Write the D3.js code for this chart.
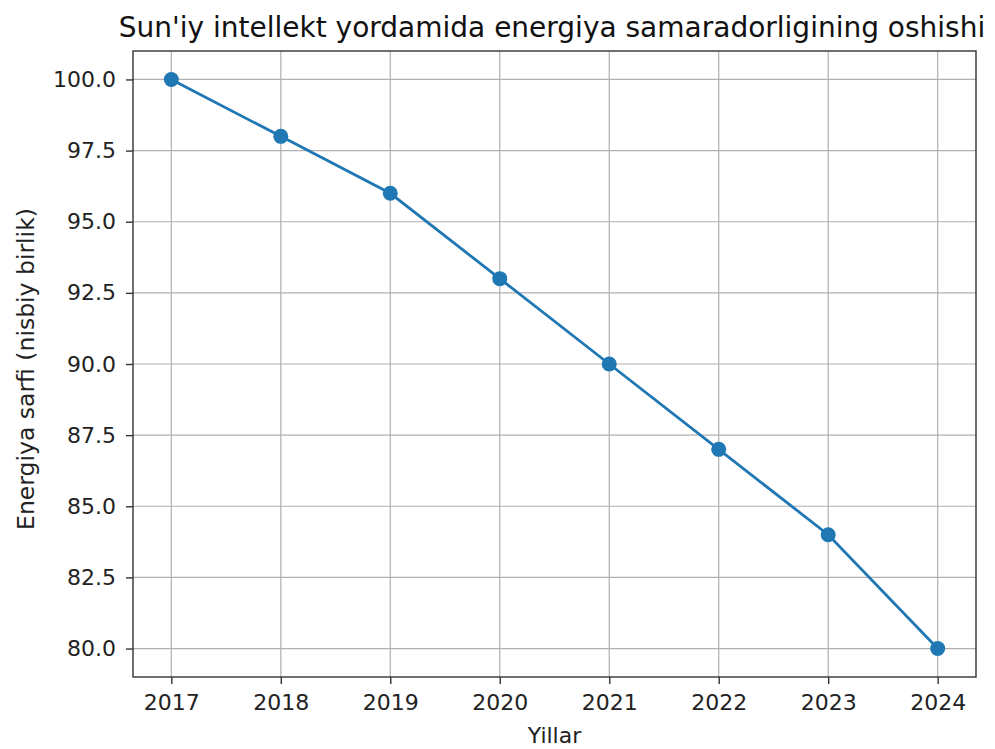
<!DOCTYPE html>
<html><head><meta charset="utf-8">
<script src="https://cdn.jsdelivr.net/npm/d3@7"></script>
<style>body{margin:0;background:#fff;}svg{display:block;font-family:"DejaVu Sans",sans-serif;}</style>
</head><body>
<svg id="c" width="995" height="749"></svg>
<script>
const years = [2017, 2018, 2019, 2020, 2021, 2022, 2023, 2024];
const energy = [100, 98, 96, 93, 90, 87, 84, 80];
const yTicks = [80.0, 82.5, 85.0, 87.5, 90.0, 92.5, 95.0, 97.5, 100.0];
const title = "Sun'iy intellekt yordamida energiya samaradorligining oshishi";
const xLabel = "Yillar";
const yLabel = "Energiya sarfi (nisbiy birlik)";

const svg = d3.select("#c");
const L = 133, R = 976, T = 51, B = 677;
const x = d3.scaleLinear().domain([2016.65, 2024.35]).range([L, R]);
const y = d3.scaleLinear().domain([79, 101]).range([B, T]);

// grid
svg.append("g").selectAll("line").data(years).join("line")
  .attr("x1", d => x(d)).attr("x2", d => x(d)).attr("y1", T).attr("y2", B)
  .attr("stroke", "#b0b0b0").attr("stroke-width", 1.2);
svg.append("g").selectAll("line").data(yTicks).join("line")
  .attr("y1", d => y(d)).attr("y2", d => y(d)).attr("x1", L).attr("x2", R)
  .attr("stroke", "#b0b0b0").attr("stroke-width", 1.2);

const xa = svg.append("g").attr("transform", `translate(0,${B})`)
  .call(d3.axisBottom(x).tickValues(years).tickFormat(d3.format("d")).tickSize(7).tickPadding(10));
const ya = svg.append("g").attr("transform", `translate(${L},0)`)
  .call(d3.axisLeft(y).tickValues(yTicks).tickFormat(d3.format(".1f")).tickSize(7).tickPadding(10));
[xa, ya].forEach(a => {
  a.select(".domain").remove();
  a.selectAll("text").attr("font-size", 22).attr("fill", "#222").attr("font-family", "DejaVu Sans");
  a.selectAll("line").attr("stroke", "#333").attr("stroke-width", 1.4);
});

svg.append("rect").attr("x", L).attr("y", T).attr("width", R - L).attr("height", B - T)
  .attr("fill", "none").attr("stroke", "#333").attr("stroke-width", 1.4);

const line = d3.line().x((d, i) => x(years[i])).y(d => y(d));
svg.append("path").datum(energy).attr("d", line).attr("fill", "none")
  .attr("stroke", "#1f77b4").attr("stroke-width", 2.8);
svg.append("g").selectAll("circle").data(energy).join("circle")
  .attr("cx", (d, i) => x(years[i])).attr("cy", d => y(d)).attr("r", 7.5)
  .attr("fill", "#1f77b4");

svg.append("text").attr("x", 552).attr("y", 37).attr("text-anchor", "middle")
  .attr("font-size", 28).attr("fill", "#111").text(title);
svg.append("text").attr("x", (L + R) / 2).attr("y", 743).attr("text-anchor", "middle")
  .attr("font-size", 22).attr("fill", "#222").text(xLabel);
svg.append("text").attr("transform", `translate(34,369) rotate(-90)`).attr("text-anchor", "middle")
  .attr("font-size", 23.5).attr("fill", "#222").text(yLabel);
</script>
</body></html>
